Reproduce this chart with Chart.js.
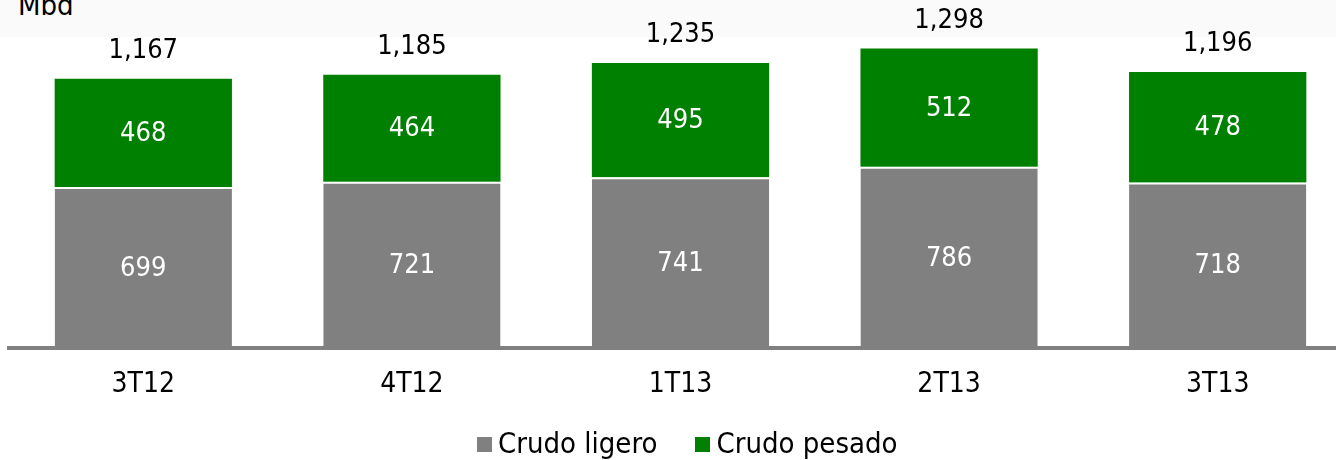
<!DOCTYPE html>
<html>
<head>
<meta charset="utf-8">
<script src="https://cdn.jsdelivr.net/npm/chart.js@4"></script>
<style>
    html, body { margin: 0; padding: 0; background: #fff; overflow: hidden; }
    #wrap { position: relative; width: 1352px; height: 460px; }
    #band { position: absolute; left: 0; top: 0; width: 1336px; height: 37px; background: #fafafa; }
    #unit { position: absolute; left: 18px; top: -12px; font: 29px 'DejaVu Sans Condensed', 'DejaVu Sans', sans-serif; color: #000; }
    canvas { position: absolute; left: 0; top: 0; }
    #legend { position: absolute; left: 477px; top: 429px; height: 29px; display: flex; align-items: center;
              font: 29px/29px 'DejaVu Sans Condensed', 'DejaVu Sans', sans-serif; color: #000; white-space: nowrap; }
    #legend .box { display: inline-block; width: 15px; height: 15px; margin: 2px 6px 0 0; }
    #legend .item { display: flex; align-items: center; margin-right: 38px; }
</style>
</head>
<body>
<div id="wrap">
    <div id="band"></div>
    <div id="unit">Mbd</div>
    <canvas id="chart" width="1352" height="460"></canvas>
    <div id="legend"></div>
</div>
<script>
// --- DATI ---
const periods = ["3T12", "4T12", "1T13", "2T13", "3T13"];
const ligero = [699, 721, 741, 786, 718];
const pesado = [468, 464, 495, 512, 478];
const totals = [1167, 1185, 1235, 1298, 1196];

const FONT = "'DejaVu Sans Condensed', 'DejaVu Sans', sans-serif";
const fmt = v => v.toLocaleString('en-US');

// etichette dentro le barre e totali sopra
const labelsPlugin = {
    id: 'barLabels',
    afterDatasetsDraw(chart) {
        const ctx = chart.ctx;
        ctx.save();
        ctx.font = `27px ${FONT}`;
        ctx.textAlign = 'center';
        ctx.textBaseline = 'middle';
        chart.data.datasets.forEach((ds, i) => {
            chart.getDatasetMeta(i).data.forEach((bar, j) => {
                const mid = (bar.y + bar.base) / 2;
                ctx.fillStyle = '#fff';
                ctx.fillText(fmt(ds.data[j]), bar.x, mid + 1);
            });
        });
        const top = chart.getDatasetMeta(1).data;
        ctx.fillStyle = '#000';
        top.forEach((bar, j) => {
            ctx.fillText(fmt(totals[j]), bar.x, bar.y - 28);
        });
        ctx.restore();
    }
};

const ctx = document.getElementById('chart').getContext('2d');
const chart = new Chart(ctx, {
    type: 'bar',
    data: {
        labels: periods,
        datasets: [
            {
                label: 'Crudo ligero',
                data: ligero,
                backgroundColor: '#808080',
                borderColor: '#ffffff',
                borderWidth: { top: 2, left: 0, right: 0, bottom: 0 },
                borderSkipped: false
            },
            {
                label: 'Crudo pesado',
                data: pesado,
                backgroundColor: '#008000',
                borderWidth: 0
            }
        ]
    },
    options: {
        responsive: false,
        animation: false,
        layout: { padding: { left: 9, right: 0, top: 25, bottom: 46 } },
        datasets: { bar: { barPercentage: 0.66, categoryPercentage: 1 } },
        plugins: {
            legend: { display: false },
            tooltip: { enabled: false }
        },
        scales: {
            x: {
                stacked: true,
                grid: { display: false },
                border: { display: true, color: '#808080', width: 4 },
                ticks: { font: { size: 28, family: FONT }, color: '#000', padding: 12 }
            },
            y: {
                stacked: true,
                display: false,
                min: 0,
                max: 1400
            }
        }
    },
    plugins: [labelsPlugin]
});

// legenda HTML dai dataset
const legendEl = document.getElementById('legend');
chart.data.datasets.forEach(ds => {
    const item = document.createElement('span');
    item.className = 'item';
    const box = document.createElement('span');
    box.className = 'box';
    box.style.background = ds.backgroundColor;
    item.appendChild(box);
    item.appendChild(document.createTextNode(ds.label));
    legendEl.appendChild(item);
});
</script>
</body>
</html>
